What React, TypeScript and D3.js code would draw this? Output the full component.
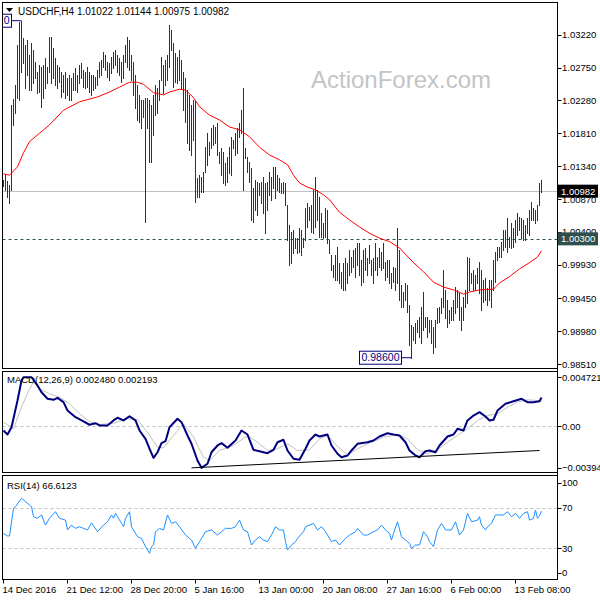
import React from "react";
import * as d3 from "d3";

// ---------- DATA ----------
const TITLE = "USDCHF,H4";
const LAST_OHLC = [1.01022, 1.01144, 1.00975, 1.00982];
const SUPPORT = 1.003;

const HIGH = [
  1.0114, 1.0123, 1.0113, 1.0107, 1.0221, 1.0230, 1.0250, 1.0307, 1.0340, 1.0342,
  1.0317, 1.0307, 1.0314, 1.0293, 1.0310, 1.0300, 1.0283, 1.0269, 1.0279, 1.0276,
  1.0279, 1.0289, 1.0276, 1.0319, 1.0319, 1.0303, 1.0289, 1.0279, 1.0276, 1.0269,
  1.0264, 1.0269, 1.0260, 1.0264, 1.0260, 1.0267, 1.0274, 1.0264, 1.0279, 1.0282,
  1.0272, 1.0269, 1.0276, 1.0269, 1.0264, 1.0264, 1.0262, 1.0272, 1.0283, 1.0286,
  1.0297, 1.0293, 1.0283, 1.0282, 1.0290, 1.0297, 1.0300, 1.0293, 1.0289, 1.0283,
  1.0293, 1.0307, 1.0319, 1.0314, 1.0293, 1.0283, 1.0264, 1.0250, 1.0236, 1.0229,
  1.0229, 1.0232, 1.0232, 1.0229, 1.0221, 1.0236, 1.0250, 1.0246, 1.0257, 1.0290,
  1.0279, 1.0286, 1.0293, 1.0336, 1.0329, 1.0310, 1.0296, 1.0290, 1.0300, 1.0286,
  1.0269, 1.0260, 1.0243, 1.0236, 1.0221, 1.0229, 1.0229, 1.0117, 1.0121, 1.0119,
  1.0126, 1.0161, 1.0181, 1.0169, 1.0189, 1.0193, 1.0190, 1.0196, 1.0154, 1.0160,
  1.0154, 1.0139, 1.0147, 1.0161, 1.0176, 1.0171, 1.0181, 1.0189, 1.0196, 1.0214,
  1.0246, 1.0160, 1.0147, 1.0140, 1.0131, 1.0103, 1.0114, 1.0111, 1.0110, 1.0111,
  1.0119, 1.0110, 1.0111, 1.0126, 1.0119, 1.0133, 1.0133, 1.0121, 1.0117, 1.0110,
  1.0111, 1.0110, 1.0078, 1.0050, 1.0040, 1.0043, 1.0031, 1.0031, 1.0046, 1.0043,
  1.0031, 1.0074, 1.0081, 1.0076, 1.0078, 1.0100, 1.0119, 1.0100, 1.0090, 1.0067,
  1.0053, 1.0074, 1.0071, 1.0028, 1.0007, 0.9993, 1.0007, 1.0018, 0.9996, 0.9983,
  0.9996, 1.0003, 0.9996, 1.0014, 1.0004, 1.0014, 1.0017, 1.0024, 1.0024, 1.0000,
  1.0014, 1.0017, 1.0003, 1.0021, 1.0000, 1.0003, 1.0024, 1.0004, 1.0017, 1.0011,
  1.0024, 0.9997, 1.0000, 1.0000, 0.9981, 0.9990, 0.9988, 1.0046, 1.0014, 0.9964,
  0.9954, 0.9967, 0.9964, 0.9936, 0.9907, 0.9904, 0.9910, 0.9914, 0.9918, 0.9933,
  0.9954, 0.9918, 0.9918, 0.9914, 0.9914, 0.9904, 0.9914, 0.9931, 0.9933, 0.9946,
  0.9986, 0.9957, 0.9943, 0.9928, 0.9933, 0.9943, 0.9961, 0.9957, 0.9953, 0.9933,
  0.9947, 0.9957, 1.0004, 1.0003, 0.9981, 0.9986, 0.9978, 0.9988, 0.9997, 0.9986,
  0.9971, 0.9974, 0.9960, 0.9971, 0.9971, 1.0000, 1.0011, 1.0018, 1.0018, 1.0026,
  1.0043, 1.0043, 1.0060, 1.0033, 1.0053, 1.0046, 1.0057, 1.0067, 1.0061, 1.0060,
  1.0057, 1.0050, 1.0060, 1.0071, 1.0083, 1.0074, 1.0071, 1.0078, 1.0110, 1.01144,
];

const LOW = [
  1.0106, 1.0100, 1.0090, 1.0081, 1.0100, 1.0193, 1.0210, 1.0232, 1.0229, 1.0269,
  1.0282, 1.0246, 1.0264, 1.0243, 1.0243, 1.0253, 1.0260, 1.0239, 1.0240, 1.0219,
  1.0232, 1.0246, 1.0253, 1.0269, 1.0253, 1.0260, 1.0250, 1.0246, 1.0254, 1.0233,
  1.0240, 1.0232, 1.0236, 1.0229, 1.0229, 1.0243, 1.0243, 1.0240, 1.0253, 1.0260,
  1.0247, 1.0246, 1.0247, 1.0240, 1.0236, 1.0243, 1.0246, 1.0250, 1.0262, 1.0264,
  1.0276, 1.0272, 1.0262, 1.0257, 1.0267, 1.0274, 1.0279, 1.0269, 1.0264, 1.0254,
  1.0260, 1.0283, 1.0276, 1.0272, 1.0257, 1.0236, 1.0217, 1.0200, 1.0197, 1.0189,
  1.0204, 1.0054, 1.0189, 1.0140, 1.0140, 1.0179, 1.0207, 1.0210, 1.0229, 1.0257,
  1.0239, 1.0250, 1.0257, 1.0276, 1.0300, 1.0247, 1.0254, 1.0253, 1.0257, 1.0246,
  1.0214, 1.0197, 1.0167, 1.0157, 1.0150, 1.0171, 1.0083, 1.0090, 1.0090, 1.0097,
  1.0097, 1.0126, 1.0136, 1.0150, 1.0160, 1.0164, 1.0167, 1.0150, 1.0139, 1.0121,
  1.0110, 1.0107, 1.0111, 1.0124, 1.0121, 1.0160, 1.0150, 1.0153, 1.0176, 1.0181,
  1.0100, 1.0146, 1.0126, 1.0111, 1.0057, 1.0054, 1.0071, 1.0064, 1.0093, 1.0081,
  1.0067, 1.0038, 1.0071, 1.0093, 1.0086, 1.0103, 1.0088, 1.0100, 1.0097, 1.0096,
  1.0096, 1.0078, 1.0028, 0.9993, 0.9996, 1.0010, 1.0017, 1.0010, 1.0011, 1.0007,
  1.0018, 1.0028, 1.0047, 1.0057, 1.0040, 1.0038, 1.0047, 1.0057, 1.0033, 1.0033,
  1.0031, 1.0033, 1.0024, 1.0010, 0.9986, 0.9976, 0.9971, 0.9971, 0.9967, 0.9960,
  0.9957, 0.9957, 0.9967, 0.9978, 0.9983, 0.9990, 0.9976, 0.9993, 0.9978, 0.9964,
  0.9968, 0.9986, 0.9978, 0.9996, 0.9978, 0.9967, 0.9986, 0.9978, 0.9990, 0.9986,
  0.9988, 0.9971, 0.9976, 0.9967, 0.9960, 0.9968, 0.9957, 0.9967, 0.9943, 0.9933,
  0.9933, 0.9943, 0.9925, 0.9878, 0.9860, 0.9885, 0.9881, 0.9897, 0.9890, 0.9881,
  0.9900, 0.9904, 0.9890, 0.9897, 0.9881, 0.9867, 0.9875, 0.9910, 0.9911, 0.9924,
  0.9933, 0.9917, 0.9904, 0.9910, 0.9914, 0.9914, 0.9924, 0.9933, 0.9914, 0.9900,
  0.9914, 0.9933, 0.9938, 0.9957, 0.9967, 0.9957, 0.9957, 0.9967, 0.9953, 0.9928,
  0.9940, 0.9943, 0.9936, 0.9943, 0.9933, 0.9957, 0.9968, 1.0000, 1.0004, 1.0004,
  1.0014, 1.0018, 1.0011, 1.0018, 1.0017, 1.0018, 1.0026, 1.0036, 1.0043, 1.0031,
  1.0028, 1.0028, 1.0038, 1.0036, 1.0057, 1.0057, 1.0053, 1.0057, 1.0078, 1.00975,
];

// moving average (red), sampled by bar index
const MA_IDX = [0, 3, 7, 10, 13, 18, 23, 30, 38, 47, 53, 58, 63, 67, 70, 75, 80, 83, 88, 91,
  95, 98, 103, 108, 113, 118, 123, 128, 133, 138, 142, 145, 148, 152, 156, 160, 163, 168, 173, 178,
  183, 188, 193, 198, 205, 210, 215, 220, 225, 230, 233, 238, 245, 248, 253, 258, 263, 267, 269];
const MA_VAL = [1.0123, 1.0121, 1.0133, 1.0153, 1.0169, 1.0181, 1.0193, 1.0214, 1.0226, 1.0233,
  1.0240, 1.0247, 1.0254, 1.0254, 1.0251, 1.0239, 1.0236, 1.0240, 1.0244, 1.0243,
  1.0232, 1.0219, 1.0207, 1.0200, 1.0190, 1.0186, 1.0176, 1.0161, 1.0150, 1.0143,
  1.0136, 1.0121, 1.0110, 1.0104, 1.0100, 1.0093, 1.0086, 1.0068, 1.0057, 1.0047,
  1.0038, 1.0031, 1.0026, 1.0017, 0.9996, 0.9983, 0.9968, 0.9961, 0.9957, 0.9951,
  0.9954, 0.9957, 0.9958, 0.9967, 0.9976, 0.9987, 0.9996, 1.0004, 1.0013];

// MACD main
const MACD_IDX = [0, 2, 4, 7, 9, 10, 14, 17, 19, 22, 25, 27, 30, 32, 36, 40, 43, 46, 48, 52,
  55, 57, 60, 63, 66, 68, 71, 73, 75, 77, 79, 81, 83, 87, 89, 92, 94, 97, 99, 102,
  104, 107, 109, 112, 116, 119, 122, 125, 128, 132, 135, 137, 140, 142, 145, 148, 151, 153, 156, 158,
  162, 164, 167, 169, 172, 174, 177, 182, 185, 188, 192, 195, 198, 201, 203, 206, 208, 211, 213, 216,
  218, 222, 225, 227, 230, 232, 235, 238, 241, 243, 245, 247, 251, 255, 259, 262, 265, 268, 269];
const MACD_VAL = [-0.00034, -0.00069, -0.00006, 0.00223, 0.00395, 0.00423, 0.00423, 0.00352, 0.00294, 0.00238,
  0.00229, 0.00246, 0.00209, 0.00137, 0.00080, 0.00043, 0.00015, 0.00028, 0.00009, 0.00009,
  0.00052, 0.00075, 0.00052, 0.00088, 0.00052, -0.00034, -0.00106, -0.00191, -0.00269, -0.00221,
  -0.00143, -0.00126, -0.00006, 0.00066, 0.00037, -0.00077, -0.00148, -0.00292, -0.00355, -0.00320,
  -0.00221, -0.00163, -0.00143, -0.00183, -0.00120, -0.00034, -0.00069, -0.00200, -0.00212, -0.00229,
  -0.00200, -0.00135, -0.00114, -0.00206, -0.00277, -0.00286, -0.00191, -0.00120, -0.00069, -0.00086,
  -0.00069, -0.00163, -0.00234, -0.00264, -0.00249, -0.00206, -0.00149, -0.00135, -0.00120, -0.00086,
  -0.00058, -0.00069, -0.00077, -0.00135, -0.00206, -0.00249, -0.00264, -0.00212, -0.00206, -0.00221,
  -0.00163, -0.00086, -0.00069, -0.00020, -0.00034, 0.00052, 0.00094, 0.00123, 0.00086, 0.00052,
  0.00058, 0.00137, 0.00195, 0.00217, 0.00238, 0.00209, 0.00209, 0.00217, 0.00248];

// MACD signal
const SIG_IDX = [0, 5, 9, 13, 15, 18, 23, 28, 33, 38, 43, 48, 55, 62, 67, 72, 77, 80, 85, 90,
  95, 100, 103, 108, 115, 122, 127, 132, 137, 142, 147, 153, 158, 162, 167, 172, 177, 183, 190, 197,
  202, 207, 212, 217, 222, 227, 232, 237, 242, 247, 252, 257, 262, 267, 269];
const SIG_VAL = [0.00037, -0.00020, 0.00166, 0.00324, 0.00380, 0.00324, 0.00281, 0.00252, 0.00195, 0.00109,
  0.00043, 0.00017, 0.00028, 0.00066, 0.00058, -0.00049, -0.00178, -0.00183, -0.00077, 0.00023,
  -0.00092, -0.00264, -0.00292, -0.00206, -0.00163, -0.00077, -0.00135, -0.00206, -0.00191, -0.00149,
  -0.00206, -0.00200, -0.00106, -0.00077, -0.00172, -0.00243, -0.00191, -0.00143, -0.00092, -0.00069,
  -0.00106, -0.00200, -0.00234, -0.00200, -0.00135, -0.00077, -0.00020, 0.00052, 0.00094, 0.00109,
  0.00166, 0.00209, 0.00229, 0.00223, 0.00219];
const MACD_NOW = [0.00248, 0.002193];
const MACD_RANGE = [-0.003949, 0.004721];
const MACD_TREND_IDX = [94, 268];
const MACD_TREND_VAL = [-0.00355, -0.00206];

// RSI(14)
const RSI_IDX = [0, 2, 3, 5, 6, 9, 11, 13, 14, 15, 17, 19, 21, 23, 26, 28, 31, 32, 34, 36,
  38, 42, 44, 47, 50, 52, 54, 55, 56, 59, 60, 61, 63, 64, 67, 69, 71, 73, 74, 75,
  76, 78, 80, 82, 84, 86, 88, 91, 94, 96, 98, 101, 104, 107, 111, 114, 116, 118, 120, 122,
  124, 126, 128, 130, 132, 134, 136, 138, 140, 141, 142, 144, 146, 147, 150, 151, 155, 157, 159, 161,
  164, 166, 168, 171, 173, 176, 177, 180, 182, 185, 187, 189, 191, 193, 194, 195, 197, 199, 201, 203,
  204, 206, 208, 210, 212, 213, 215, 217, 219, 221, 224, 226, 228, 230, 232, 234, 237, 238, 239, 241,
  242, 244, 246, 250, 252, 254, 256, 258, 260, 262, 263, 265, 266, 267, 268, 269];
const RSI_VAL = [44.8, 42.2, 42.2, 69.4, 71.1, 79.3, 76.0, 72.7, 71.1, 61.2,
  59.6, 62.9, 52.9, 59.6, 66.1, 59.6, 57.8, 48.1, 52.9, 49.7,
  51.3, 48.1, 55.2, 46.4, 52.9, 56.2, 62.9, 59.6, 64.5, 54.6,
  51.3, 59.6, 66.1, 51.3, 41.5, 39.8, 31.7, 25.1, 31.7, 33.3,
  46.4, 49.7, 48.1, 62.9, 54.6, 56.2, 51.3, 43.1, 38.2, 30.0,
  36.6, 46.4, 48.1, 43.1, 49.7, 49.7, 51.3, 57.8, 48.1, 46.4,
  33.3, 38.2, 41.5, 38.2, 36.6, 43.1, 51.3, 48.1, 48.1, 36.6,
  28.4, 33.3, 36.6, 39.8, 46.4, 51.3, 54.6, 48.1, 51.3, 46.4,
  36.6, 38.2, 33.3, 39.8, 43.1, 46.4, 49.7, 43.1, 43.1, 46.4,
  48.1, 52.9, 48.1, 44.8, 38.2, 44.8, 56.2, 41.5, 38.2, 35.0,
  30.0, 33.3, 33.3, 46.4, 41.5, 36.6, 31.7, 48.1, 54.6, 48.1,
  48.1, 56.2, 43.1, 48.1, 64.5, 56.2, 57.8, 61.2, 52.9, 48.1,
  51.3, 54.6, 62.9, 62.9, 66.1, 61.2, 64.5, 59.6, 64.5, 66.1,
  57.8, 59.6, 67.8, 59.6, 62.0, 66.6];
const RSI_NOW = 66.6123;
const RSI_LEVELS = [70, 30];
const RSI_TICKS = [100, 70, 30, 0];

const PRICE_TICKS = [1.0322, 1.0275, 1.0228, 1.0181, 1.0134, 1.0087, 1.0040, 0.9993, 0.9945, 0.9898, 0.9851];
const TIME_IDX = [0, 32, 64, 96, 128, 160, 192, 224, 256];
const TIME_LABELS = ["14 Dec 2016", "21 Dec 12:00", "28 Dec 20:00", "5 Jan 16:00", "13 Jan 00:00",
  "20 Jan 08:00", "27 Jan 16:00", "6 Feb 00:00", "13 Feb 08:00"];

// ---------- LAYOUT ----------
const FONT = "'Liberation Sans', Arial, sans-serif";
const FS = 9.5;
const L = 2.5, R = 557.5;
const MAIN = { top: 2.5, bottom: 368.5 };
const MP = { top: 371.5, bottom: 472.5 };
const RP = { top: 475.5, bottom: 579.5 };
const BAR_COLOR = "#0f3a58";

export default function App() {
  const n = HIGH.length;
  const x = d3.scaleLinear().domain([0, n - 1]).range([3.5, 3.5 + 2 * (n - 1)]);
  const yP = d3.scaleLinear().domain([0.9851, 1.0322]).range([364, 34.7]);
  const yM = d3.scaleLinear().domain(MACD_RANGE).range([MP.bottom, MP.top]);
  const yR = d3.scaleLinear().domain([0, 100]).range([578.8, 477.3]);

  const maPath = d3.line<number>().x((_, k) => x(MA_IDX[k])).y((d) => yP(d))(MA_VAL) || "";
  const macdPath = d3.line<number>().x((_, k) => x(MACD_IDX[k])).y((d) => yM(d))(MACD_VAL) || "";
  const sigPath = d3.line<number>().x((_, k) => x(SIG_IDX[k])).y((d) => yM(d))(SIG_VAL) || "";
  const rsiPath = d3.line<number>().x((_, k) => x(RSI_IDX[k])).y((d) => yR(d))(RSI_VAL) || "";

  const fmt5 = d3.format(".5f");
  const hiIdx = d3.maxIndex(HIGH);
  const loIdx = d3.minIndex(LOW);
  const last = LAST_OHLC[3];

  const priceLabel = (i: number, v: number, key: string) => {
    const bx = x(i) - 10;
    const by = yP(v);
    const w = 42;
    return (
      <g key={key}>
        <line x1={bx} x2={x(i)} y1={by} y2={by} stroke="#000080" strokeWidth={1} />
        <rect x={bx - w} y={by - 6.5} width={w} height={13} fill="#fff" stroke="#000080" strokeWidth={1} />
        <text x={bx - w / 2} y={by + 3.5} textAnchor="middle" fontSize={FS + 1} fill="#000080">{fmt5(v)}</text>
      </g>
    );
  };

  return (
    <svg width={600} height={600} style={{ position: "fixed", left: 0, top: 0, background: "#fff" }}
      fontFamily={FONT}>
      <defs>
        <clipPath id="cMain"><rect x={L} y={MAIN.top} width={R - L} height={MAIN.bottom - MAIN.top} /></clipPath>
        <clipPath id="cMacd"><rect x={L} y={MP.top} width={R - L} height={MP.bottom - MP.top} /></clipPath>
        <clipPath id="cRsi"><rect x={L} y={RP.top} width={R - L} height={RP.bottom - RP.top} /></clipPath>
      </defs>
      <rect x={0} y={0} width={600} height={600} fill="#fff" />

      {/* watermark */}
      <text x={401} y={88} textAnchor="middle" fontSize={24} fill="#c4c4c4" fontFamily="'Liberation Sans', Arial, sans-serif">ActionForex.com</text>

      {/* ---------- MAIN PANEL ---------- */}
      <g clipPath="url(#cMain)">
        <line x1={L} x2={R} y1={Math.round(yP(last)) + 0.5} y2={Math.round(yP(last)) + 0.5} stroke="#c0c0c0" />
        <line x1={L} x2={R} y1={Math.round(yP(SUPPORT)) + 0.5} y2={Math.round(yP(SUPPORT)) + 0.5}
          stroke="#2f4f4f" strokeDasharray="3,3" />
        <g stroke={BAR_COLOR} strokeWidth={1} shapeRendering="crispEdges">
          {HIGH.map((h, i) => (
            <line key={i} x1={x(i)} x2={x(i)} y1={yP(h)} y2={yP(LOW[i]) + 1} />
          ))}
        </g>
        <path d={maPath} fill="none" stroke="#ff0000" strokeWidth={1} />
        {priceLabel(hiIdx, HIGH[hiIdx], "hi")}
        {priceLabel(loIdx, LOW[loIdx], "lo")}
      </g>
      <rect x={L} y={MAIN.top} width={R - L} height={MAIN.bottom - MAIN.top} fill="none" stroke="#000" />
      <polygon points="6,8 13,8 9.5,12" fill="#000" />
      <text x={18} y={14.5} fontSize={FS + 0.5} fill="#000">
        {TITLE + "  " + LAST_OHLC.map(fmt5).join(" ")}
      </text>

      {/* price axis */}
      {PRICE_TICKS.map((t, k) => (
        <g key={k}>
          <line x1={R} x2={R + 4} y1={Math.round(yP(t)) + 0.5} y2={Math.round(yP(t)) + 0.5} stroke="#000" />
          <text x={562} y={yP(t) + 3.5} fontSize={FS} fill="#000">{fmt5(t)}</text>
        </g>
      ))}
      <rect x={558} y={yP(last) - 6.5} width={40} height={13} fill="#000" />
      <text x={561} y={yP(last) + 3.5} fontSize={FS} fill="#fff">{fmt5(last)}</text>
      <rect x={558} y={yP(SUPPORT) - 6.5} width={40} height={13} fill="#2f4f4f" />
      <text x={561} y={yP(SUPPORT) + 3.5} fontSize={FS} fill="#fff">{fmt5(SUPPORT)}</text>

      {/* ---------- MACD PANEL ---------- */}
      <g clipPath="url(#cMacd)">
        <line x1={L} x2={R} y1={Math.round(yM(0)) + 0.5} y2={Math.round(yM(0)) + 0.5} stroke="#c0c0c0" strokeDasharray="3,3" />
        <path d={sigPath} fill="none" stroke="#c0c0c0" strokeWidth={1} />
        <path d={macdPath} fill="none" stroke="#000080" strokeWidth={2} strokeLinejoin="round" />
        <line x1={x(MACD_TREND_IDX[0])} x2={x(MACD_TREND_IDX[1])} y1={yM(MACD_TREND_VAL[0])} y2={yM(MACD_TREND_VAL[1])}
          stroke="#000" strokeWidth={1} />
      </g>
      <rect x={L} y={MP.top} width={R - L} height={MP.bottom - MP.top} fill="none" stroke="#000" />
      <text x={7} y={383} fontSize={FS} fill="#000">
        {"MACD(12,26,9) " + d3.format(".6f")(MACD_NOW[0]) + " " + d3.format(".6f")(MACD_NOW[1])}
      </text>
      <text x={562} y={yM(MACD_RANGE[1]) + 9} fontSize={FS} fill="#000">{d3.format(".6f")(MACD_RANGE[1])}</text>
      <text x={562} y={yM(0) + 3.5} fontSize={FS} fill="#000">0.00</text>
      <text x={562} y={yM(MACD_RANGE[0]) - 2} fontSize={FS} fill="#000">{d3.format(".6f")(MACD_RANGE[0])}</text>
      {[MACD_RANGE[1], 0, MACD_RANGE[0]].map((t, k) => (
        <line key={k} x1={R} x2={R + 4} y1={Math.round(yM(t) + (k === 0 ? 5 : k === 2 ? -5 : 0)) + 0.5}
          y2={Math.round(yM(t) + (k === 0 ? 5 : k === 2 ? -5 : 0)) + 0.5} stroke="#000" />
      ))}

      {/* ---------- RSI PANEL ---------- */}
      <g clipPath="url(#cRsi)">
        {RSI_LEVELS.map((lv) => (
          <line key={lv} x1={L} x2={R} y1={Math.round(yR(lv)) + 0.5} y2={Math.round(yR(lv)) + 0.5}
            stroke="#c0c0c0" strokeDasharray="3,3" />
        ))}
        <path d={rsiPath} fill="none" stroke="#1e90ff" strokeWidth={1} />
      </g>
      <rect x={L} y={RP.top} width={R - L} height={RP.bottom - RP.top} fill="none" stroke="#000" />
      <text x={7} y={489} fontSize={FS} fill="#000">{"RSI(14) " + RSI_NOW.toFixed(4)}</text>
      {RSI_TICKS.map((t) => {
        const yy = t === 100 ? yR(t) + 5.5 : t === 0 ? yR(t) - 6 : yR(t);
        return (
          <g key={t}>
            <line x1={R} x2={R + 4} y1={Math.round(yy) + 0.5} y2={Math.round(yy) + 0.5} stroke="#000" />
            <text x={562} y={yy + 3.5} fontSize={FS} fill="#000">{t}</text>
          </g>
        );
      })}

      {/* right axis line */}
      <line x1={R} x2={R} y1={MAIN.top} y2={RP.bottom} stroke="#000" />

      {/* time axis */}
      {TIME_IDX.map((ti, k) => (
        <g key={k}>
          <line x1={x(ti)} x2={x(ti)} y1={RP.bottom} y2={RP.bottom + 4} stroke="#000" />
          <text x={x(ti) - 1} y={593} fontSize={FS} fill="#000">{TIME_LABELS[k]}</text>
        </g>
      ))}
    </svg>
  );
}
